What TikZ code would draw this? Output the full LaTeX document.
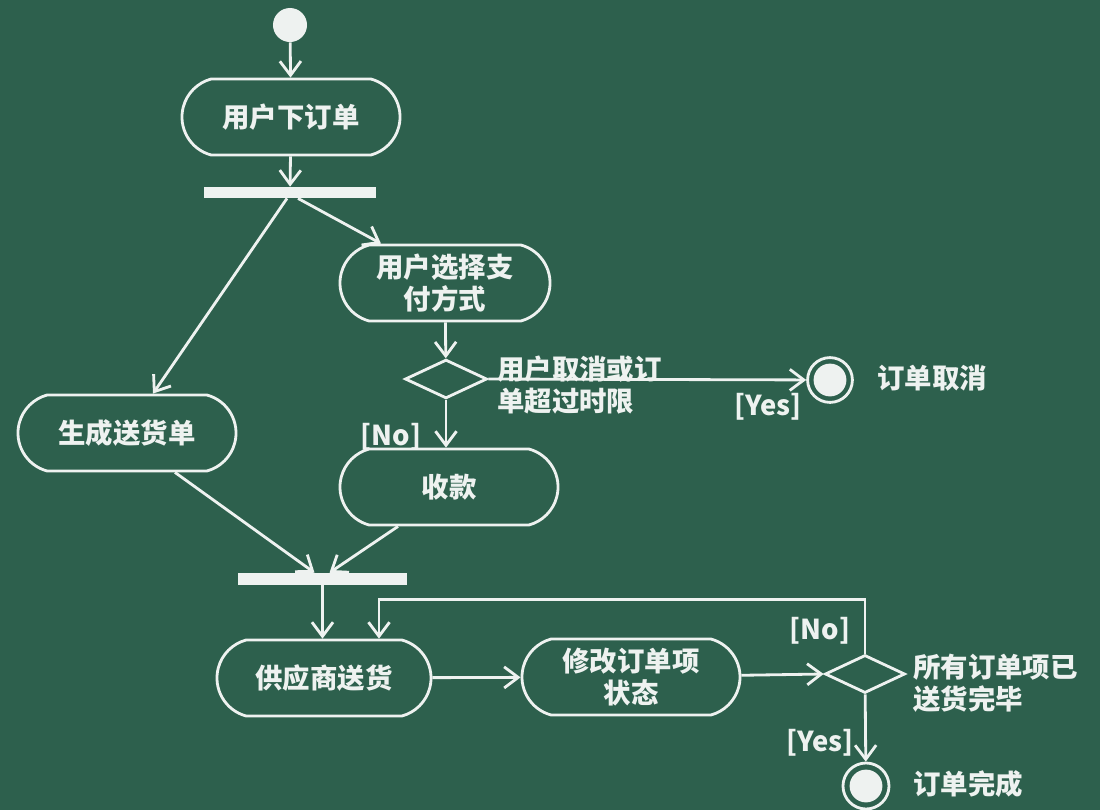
\documentclass[tikz,border=0pt]{standalone}
\usepackage{fontspec}
\newfontfamily\cjk{Noto Sans CJK SC}
\usetikzlibrary{shapes.misc,shapes.geometric,arrows.meta,calc}
\definecolor{board}{RGB}{45,96,77}
\definecolor{chalk}{RGB}{238,242,240}
\tikzset{
  txt/.style={font=\cjk\bfseries\fontsize{19.5pt}{22.5pt}\selectfont, text=chalk, inner sep=0pt},
  action/.style={txt, rounded rectangle, rounded rectangle arc length=150, draw=chalk, line width=2pt,
    minimum width=5.45cm, minimum height=1.9cm, align=center},
  bar/.style={rectangle, fill=chalk, inner sep=0pt},
  decision/.style={diamond, draw=chalk, line width=2pt, inner sep=0pt, minimum width=2.05cm, minimum height=0.97cm},
  initial/.style={circle, fill=chalk, inner sep=0pt, minimum size=0.85cm},
  final/.style={circle, draw=chalk, line width=2pt, inner sep=0pt, minimum size=1.12cm,
    path picture={\fill[chalk] (path picture bounding box.center) circle (0.41cm);}},
  flow/.style={draw=chalk, line width=2pt, -{Straight Barb[length=10pt,width=15pt,line width=2pt]}},
}
\begin{document}
\begin{tikzpicture}[x=0.025cm, y=-0.025cm]
\fill[board] (0,0) rectangle (1100,810);
\useasboundingbox (0,0) rectangle (1100,810);

\node[initial] (start) at (290,25) {};
\node[action] (order) at (291,117) {用户下订单};
\node[bar, minimum width=4.3cm, minimum height=0.28cm] (fork) at (290,192.5) {};
\node[action] (gen) at (127,433) {生成送货单};
\node[action, minimum width=5.25cm] (pay) at (445,283) {用户选择支\\付方式};
\node[decision] (dec1) at (446,379) {};
\node[final] (cancel) at (830,380) {};
\node[txt, anchor=west] (cancellbl) at (877,378) {订单取消};
\node[action] (collect) at (449,487) {收款};
\node[bar, minimum width=4.23cm, minimum height=0.3cm] (join) at (322.5,579) {};
\node[action, minimum width=5.35cm] (supply) at (324,678) {供应商送货};
\node[action] (modify) at (631,677) {修改订单项\\状态};
\node[decision, minimum width=2cm, minimum height=0.95cm] (dec2) at (865,674) {};
\node[final, minimum size=1.15cm] (done) at (866,786) {};
\node[txt, anchor=west] (donelbl) at (913,784) {订单完成};

% labels
\node[txt, anchor=west, align=left] (cond1) at (497,385) {用户取消或订\\单超过时限};
\node[txt] (yes1) at (768,407) {[Yes]};
\node[txt] (no1) at (391,437) {[No]};
\node[txt, anchor=west, align=left] (cond2) at (913,683) {所有订单项已\\送货完毕};
\node[txt] (no2) at (820,631) {[No]};
\node[txt] (yes2) at (820,743) {[Yes]};

% connectors
\draw[flow] (start) -- (order);
\draw[flow] (order) -- (fork);
\draw[flow] ($(fork.south)+(-3,0)$) -- ($(gen.north)+(26,0)$);
\draw[flow] ($(fork.south)+(8,0)$) -- ($(pay.north)+(-64,0)$);
\draw[flow] (pay) -- (dec1);
\draw[flow] (dec1.east) -- (cancel);
\draw[flow] (dec1) -- (dec1 |- collect.north);
\draw[flow] ($(gen.south)+(48,0)$) -- ($(join.north)+(-8,0)$);
\draw[flow] ($(collect.south)+(-51,0)$) -- ($(join.north)+(7,0)$);
\draw[flow] (join) -- (join |- supply.north);
\draw[flow] (dec2.north) -- ++(0,-54) -| ($(supply.north)+(55,0)$);
\draw[flow] (supply) -- (modify);
\draw[flow] (modify) -- (dec2.west);
\draw[flow] (dec2) -- (done);
\end{tikzpicture}
\end{document}
